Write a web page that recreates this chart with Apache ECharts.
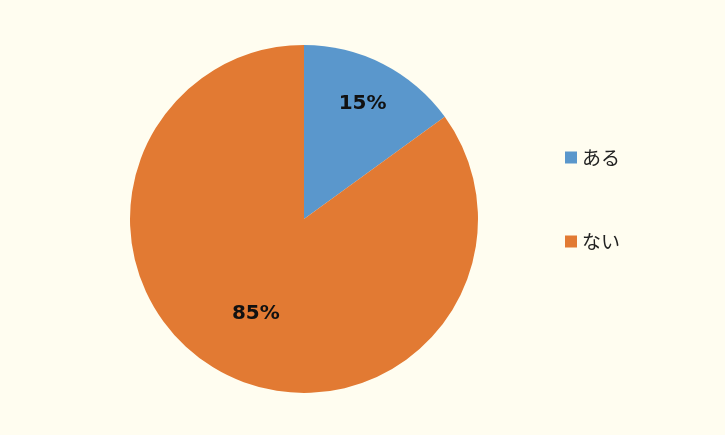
<!DOCTYPE html>
<html>
<head>
<meta charset="utf-8">
<script src="https://cdn.jsdelivr.net/npm/echarts@6/dist/echarts.min.js"></script>
<style>
html,body{margin:0;padding:0;background:#FFFDF0;}
#c{width:725px;height:435px;}
</style>
</head>
<body>
<div id="c"></div>
<script>
var categories = ['ある', 'ない'];
var values = [15, 85];
var colors = ['#5A97CC', '#E27A33'];

var chart = echarts.init(document.getElementById('c'));
var center = [304, 219];
var R = 174;

function labelData(showIndex) {
  return categories.map(function (name, i) {
    return {
      name: name,
      value: values[i],
      label: { show: i === showIndex }
    };
  });
}
function labelSeries(showIndex, inner) {
  return {
    type: 'pie',
    center: center,
    radius: [inner, R],
    startAngle: 90,
    silent: true,
    legendHoverLink: false,
    itemStyle: { color: 'rgba(0,0,0,0)' },
    label: {
      position: 'inside',
      formatter: function (p) { return p.value + '%'; },
      fontFamily: 'DejaVu Sans, Verdana, sans-serif',
      fontWeight: 'bold',
      fontSize: 20,
      color: '#111'
    },
    labelLine: { show: false },
    emphasis: { disabled: true },
    data: labelData(showIndex),
    z: 3
  };
}

chart.setOption({
  backgroundColor: '#FFFDF0',
  animation: false,
  color: colors,
  legend: {
    orient: 'vertical',
    left: 560,
    top: 143,
    icon: 'rect',
    itemWidth: 12,
    itemHeight: 12,
    itemGap: 65,
    itemTextGap: 7,
    data: categories,
    textStyle: {
      fontFamily: 'Noto Sans CJK JP',
      fontSize: 19,
      color: '#222'
    }
  },
  series: [
    {
      type: 'pie',
      name: 'main',
      center: center,
      radius: [0, R],
      startAngle: 90,
      label: { show: false },
      labelLine: { show: false },
      itemStyle: { borderWidth: 0 },
      emphasis: { disabled: true },
      data: categories.map(function (n, i) { return { name: n, value: values[i] }; })
    },
    labelSeries(0, 78),
    labelSeries(1, 32)
  ]
});
</script>
</body>
</html>
